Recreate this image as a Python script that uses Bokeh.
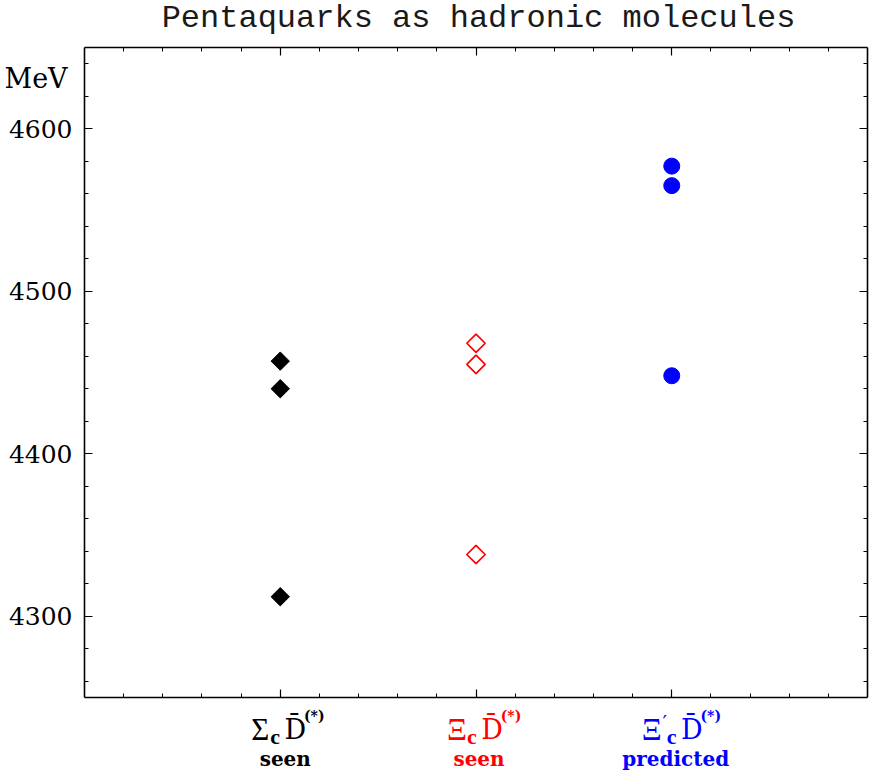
import numpy as np
from bokeh.plotting import figure
from bokeh.models import Range1d, FixedTicker, LinearAxis, Label
from bokeh.embed import file_html
from bokeh.resources import INLINE

# ---------------- data ----------------
cat_x = [1, 2, 3]
cat_main = ["\u03a3", "\u039e", "\u039e"]          # Σ, Ξ, Ξ
cat_prime = ["", "", "\u2032"]
cat_sub = ["c", "c", "c"]
cat_meson = ["D\u0304", "D\u0304", "D\u0304"]      # D̄
cat_sup = ["(*)", "(*)", "(*)"]
cat_status = ["seen", "seen", "predicted"]
cat_colors = ["#000000", "#ff0000", "#0000ff"]

sigma_c_masses = [4312, 4440, 4457]      # Σc D̄(*)  seen
xi_c_masses = [4338, 4455, 4468]         # Ξc D̄(*)  seen
xi_c_prime_masses = [4448, 4565, 4577]   # Ξ'c D̄(*) predicted

y_major = [4300, 4400, 4500, 4600]
x_major = [1, 2, 3]
X_LIMITS = (0, 4)
Y_LIMITS = (4250, 4650)

TITLE = "Pentaquarks as hadronic molecules"
UNIT = "MeV"

# ---------------- layout (page pixels) ----------------
W, H = 877, 777
FL, FR, FT, FB = 84, 867, 47, 697          # visible plot box edges
TEXT_SHIFT = -9                            # empirical baseline correction
sx = (FR - FL) / (X_LIMITS[1] - X_LIMITS[0])
sy = (FB - FT) / (Y_LIMITS[1] - Y_LIMITS[0])
x_rng = Range1d(X_LIMITS[0] - FL / sx, X_LIMITS[1] + (W - FR) / sx)
y_rng = Range1d(Y_LIMITS[0] - (H - FB) / sy, Y_LIMITS[1] + FT / sy)


def px_x(px):
    return X_LIMITS[0] + (px - FL) / sx


def px_y(py):
    return Y_LIMITS[1] - (py + TEXT_SHIFT - FT) / sy


p = figure(width=W, height=H, x_range=x_rng, y_range=y_rng,
           x_axis_type=None, y_axis_type=None,
           output_backend="svg", toolbar_location=None,
           min_border=0)
p.outline_line_color = None
p.background_fill_color = "white"
p.border_fill_color = "white"

y_minor = [v for v in np.arange(4260, 4650, 20).tolist() if v not in y_major]
x_minor = [round(v, 1) for v in np.arange(0.2, 4.0, 0.2).tolist() if round(v, 1) not in x_major]


def make_axis(ticks, minor, show_labels, loc, bounds):
    ax = LinearAxis(ticker=FixedTicker(ticks=ticks, minor_ticks=minor),
                    fixed_location=loc, bounds=bounds)
    ax.major_tick_in = 8
    ax.major_tick_out = 0
    ax.minor_tick_in = 4
    ax.minor_tick_out = 0
    ax.axis_line_width = 1.6
    ax.axis_line_color = "black"
    ax.major_tick_line_width = 1.2
    ax.minor_tick_line_width = 1
    ax.major_tick_line_color = "black"
    ax.minor_tick_line_color = "black"
    if show_labels:
        ax.major_label_text_font = "DejaVu Serif"
        ax.major_label_text_font_size = "25px"
        ax.major_label_text_color = "black"
        ax.major_label_standoff = 12
    else:
        ax.major_label_text_font_size = "0px"
        ax.major_label_text_alpha = 0
        ax.major_label_standoff = 0
    return ax


p.add_layout(make_axis(y_major, y_minor, True, X_LIMITS[0], Y_LIMITS), "left")
p.add_layout(make_axis(y_major, y_minor, False, X_LIMITS[1], Y_LIMITS), "right")
p.add_layout(make_axis(x_major, x_minor, False, Y_LIMITS[0], X_LIMITS), "below")
p.add_layout(make_axis(x_major, x_minor, False, Y_LIMITS[1], X_LIMITS), "above")

# ---------------- markers ----------------
p.scatter([cat_x[0]] * len(sigma_c_masses), sigma_c_masses, marker="square",
          angle=np.pi / 4, size=13, fill_color=cat_colors[0], line_color=cat_colors[0])
p.scatter([cat_x[1]] * len(xi_c_masses), xi_c_masses, marker="square",
          angle=np.pi / 4, size=13, fill_color=None, line_color=cat_colors[1], line_width=1.7)
p.scatter([cat_x[2]] * len(xi_c_prime_masses), xi_c_prime_masses, marker="circle",
          size=16, fill_color=cat_colors[2], line_color=cat_colors[2])


# ---------------- texts ----------------
def add_text(x, base_py, text, font, size, style, color, align="left", dx=0):
    p.add_layout(Label(x=x, y=px_y(base_py), x_offset=dx, text=text,
                       text_align=align, text_baseline="alphabetic",
                       text_font=font, text_font_size=size, text_font_style=style,
                       text_color=color))


add_text(px_x(478), 27, TITLE, "Liberation Mono", "32px", "normal", "#1a1a1a", align="center")
add_text(px_x(4), 87, UNIT, "DejaVu Serif", "27px", "normal", "black")

# per-category piece centre offsets (screen px from category position)
offsets = [
    dict(main=-20, prime=None, sub=-5, meson=15, sup=34, status=5),
    dict(main=-19, prime=None, sub=-4, meson=16, sup=35, status=3),
    dict(main=-20, prime=-7, sub=0, meson=20, sup=39, status=4),
]

for i, cx in enumerate(cat_x):
    o = offsets[i]
    col = cat_colors[i]
    add_text(cx, 738, cat_main[i], "Liberation Serif", "31px", "normal", col,
             align="center", dx=o["main"])
    if o["prime"] is not None and cat_prime[i]:
        add_text(cx, 731, cat_prime[i], "DejaVu Serif", "20px", "normal", col,
                 align="center", dx=o["prime"])
    add_text(cx, 745, cat_sub[i], "Liberation Serif", "22px", "bold", col,
             align="center", dx=o["sub"])
    add_text(cx, 738, cat_meson[i], "DejaVu Serif", "27px", "normal", col,
             align="center", dx=o["meson"])
    add_text(cx, 724, cat_sup[i], "DejaVu Serif", "14px", "bold", col,
             align="center", dx=o["sup"])
    add_text(cx, 767, cat_status[i], "DejaVu Serif", "20px", "bold", col,
             align="center", dx=o["status"])

open("out.html", "w").write(file_html(p, INLINE))
